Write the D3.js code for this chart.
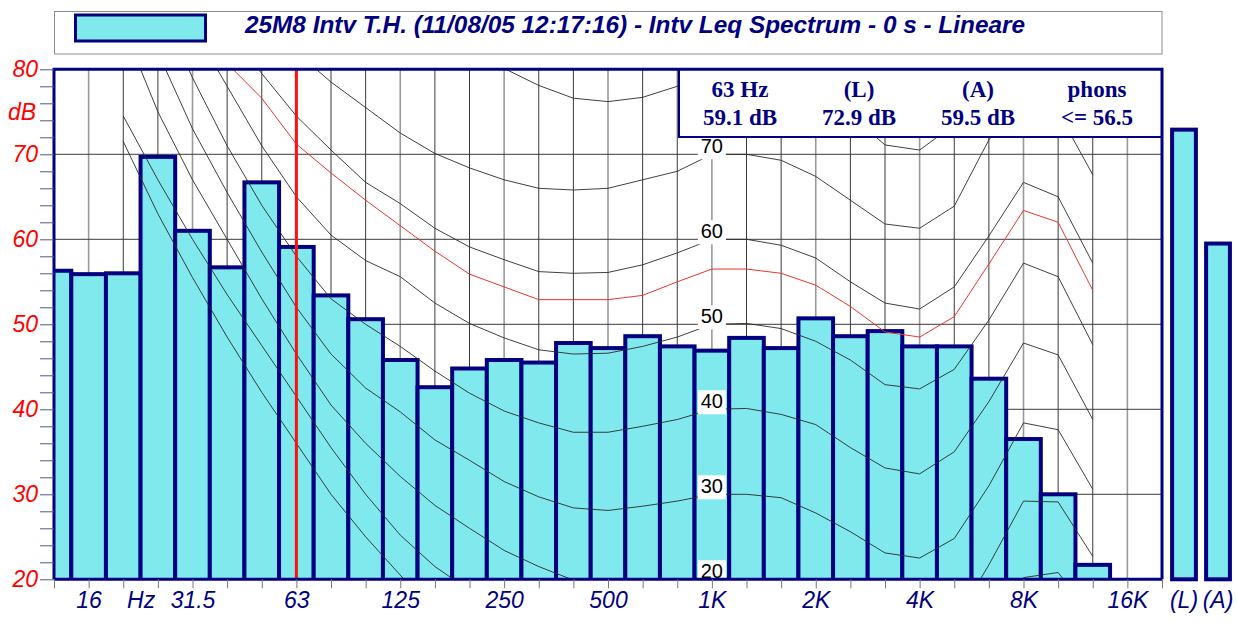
<!DOCTYPE html>
<html>
<head>
<meta charset="utf-8">
<script src="https://cdn.jsdelivr.net/npm/d3@7"></script>
<style>
  body { margin: 0; background: #fff; }
  svg { display: block; font-family: Arial, "Liberation Sans", sans-serif; }
</style>
</head>
<body>
<div id="chart"></div>
<script>
// third-octave bands shown on the x axis (12.5 Hz .. 20 kHz)
const bandNames = ['12.5', '16', '20', '25', '31.5', '40', '50', '63', '80', '100', '125', '160',
  '200', '250', '315', '400', '500', '630', '800', '1K', '1.25K', '1.6K', '2K', '2.5K', '3.15K',
  '4K', '5K', '6.3K', '8K', '10K', '12.5K', '16K', '20K'];
const bandLevels = [56.3, 55.9, 56.0, 69.7, 61.0, 56.7, 66.7, 59.1, 53.4, 50.6, 45.8, 42.6,
  44.8, 45.8, 45.5, 47.8, 47.2, 48.6, 47.4, 46.9, 48.4, 47.2, 50.7, 48.6, 49.2,
  47.4, 47.4, 43.6, 36.5, 30.0, 21.7, null, null];

// overall levels on the right
const totalNames = ['(L)', '(A)'];
const totalLevels = [72.9, 59.5];

// x axis labels
const axisLabels = ['16', 'Hz', '31.5', '63', '125', '250', '500', '1K', '2K', '4K', '8K', '16K'];
const axisLabelFreqs = [16, 22.4, 31.5, 63, 125, 250, 500, 1000, 2000, 4000, 8000, 16000];
const yTicks = [20, 30, 40, 50, 60, 70, 80];

// equal loudness contours (dB at each third-octave from 20 Hz to 12.5 kHz)
const contourFreqs = [20, 25, 31.5, 40, 50, 63, 80, 100, 125, 160, 200, 250, 315, 400, 500, 630,
  800, 1000, 1250, 1600, 2000, 2500, 3150, 4000, 5000, 6300, 8000, 10000, 12500];
const phon0 = [71.5, 63, 55.5, 48.5, 42, 36, 30, 25, 20.5, 16, 12.5, 9.5, 7, 5, 4, 3,
  2.5, 2.5, 2.5, 1.5, -0.5, -2.5, -4, -3.5, -1.5, 4, 10.5, 11, 6];
const phon10 = [74.5, 67, 60, 53.5, 47.5, 41.5, 35.5, 30, 25.2, 21.5, 18.7, 15, 12.5, 10.5, 9.5, 9.5,
  9.8, 10, 10, 9.5, 7.5, 5.5, 3.5, 3, 5, 12, 20.2, 20.8, 15.5];
const phon20 = [85, 75, 67, 60, 53, 46.5, 40.5, 36, 32.1, 28.7, 26.0, 23.4, 21.5, 19.9, 19.3, 19.3,
  19.6, 20, 20, 19.5, 17.5, 15.5, 13, 12.5, 14.8, 21.7, 29.2, 29.1, 22.7];
const phon30 = [92, 82, 73, 65.5, 58.5, 52, 46.5, 42.5, 39.7, 36.4, 34.0, 31.5, 29.7, 28.4, 28.1, 28.6,
  29.2, 30, 30, 29.6, 27.8, 25.6, 23.1, 22.5, 24.8, 31, 38.4, 37.6, 30.6];
const phon40 = [98, 88, 79, 71, 64, 58, 53, 50, 47.4, 44.5, 41.9, 39.8, 38.4, 37.3, 37.3, 38.0,
  38.8, 40, 40.1, 39.4, 38.2, 35.5, 33.1, 32.4, 35.0, 40.9, 47.8, 46.4, 38.8];
const phon50 = [104, 94, 85, 78, 71, 65, 60.5, 57.5, 55.6, 52.5, 50.1, 48.4, 47.0, 46.5, 46.6, 47.4,
  48.5, 50, 50.1, 49.5, 48.0, 45.8, 42.9, 42.4, 44.7, 50.5, 57.2, 55.6, 47.6];
const phonMeasured = [108, 98, 89, 80.7, 76.6, 71.2, 67.8, 64.6, 61.6, 58.6, 55.9, 54.4, 52.9, 52.9, 52.9, 53.4,
  55.0, 56.5, 56.5, 56.0, 54.6, 52.1, 49.1, 48.5, 50.9, 57.1, 63.4, 62.0, 54.0];
const phon60 = [110, 100, 92, 85, 79.5, 74.5, 70.5, 66.7, 64.2, 61.3, 59.1, 57.6, 56.2, 56.0, 56.1, 57.0,
  58.4, 60, 60.0, 59.3, 57.8, 55.0, 52.5, 51.8, 54.4, 60.4, 66.7, 65.0, 57.2];
const phon70 = [116, 107, 99, 92, 87, 82, 78.5, 75.5, 72.5, 70.1, 68.4, 67.0, 66.0, 65.8, 66.0, 67.0,
  68.0, 70, 70.0, 69.3, 67.4, 64.6, 61.8, 61.3, 63.9, 71.7, 76.5, 75, 67.6];
const phon80 = [122, 113, 106, 99, 94, 91, 88.5, 86.5, 85, 83.5, 81.8, 80.1, 78.1, 76.6, 76.2, 76.7,
  78.0, 80, 80, 79.5, 77.4, 74.6, 71.1, 70.5, 73.5, 80.5, 86, 84.5, 77.5];
const contours = [phon0, phon10, phon20, phon30, phon40, phon50, phon60, phon70, phon80];
const labelledLevels = [20, 30, 40, 50, 60, 70];

const title = '25M8 Intv T.H. (11/08/05 12:17:16) - Intv Leq Spectrum - 0 s - Lineare';
const infoHeads = ['63 Hz', '(L)', '(A)', 'phons'];
const infoValues = ['59.1 dB', '72.9 dB', '59.5 dB', '<= 56.5'];
const cursorFreq = 63;

const navy = '#000080';
const barFill = '#80e9ed';
const width = 1237, height = 623;
const plot = { left: 54, right: 1162, top: 69.3, bottom: 579.3 };

// nominal band name -> exact third octave centre frequency
function exactFreq(nominal) {
   let n = Math.round(10 * Math.log10(nominal / 1000));
   return 1000 * Math.pow(10, n / 10);
}
function bandFreq(i) {
   return 1000 * Math.pow(10, (i - 19) / 10);
}

let x = d3.scaleLog()
   .domain([bandFreq(0), bandFreq(32)])
   .range([plot.left, plot.right]);
let y = d3.scaleLinear()
   .domain([20, 80])
   .range([plot.bottom, plot.top]);
let xTot = d3.scaleBand()
   .domain(totalNames)
   .range([1167, 1235])
   .paddingInner(0.3)
   .paddingOuter(0.15);

let svg = d3.select('#chart').append('svg')
   .attr('width', width)
   .attr('height', height);

svg.append('defs').append('clipPath')
   .attr('id', 'plot-clip')
   .append('rect')
   .attr('x', plot.left)
   .attr('y', plot.top)
   .attr('width', plot.right - plot.left)
   .attr('height', plot.bottom - plot.top);

// title box with legend swatch
svg.append('rect')
   .attr('x', 54.5).attr('y', 11.5)
   .attr('width', 1107.5).attr('height', 42.5)
   .attr('fill', '#fff')
   .attr('stroke', '#8c8c8c');
svg.append('rect')
   .attr('x', 75.5).attr('y', 15)
   .attr('width', 130).attr('height', 26)
   .attr('fill', barFill)
   .attr('stroke', navy)
   .attr('stroke-width', 3);
svg.append('text')
   .attr('x', 245).attr('y', 33)
   .attr('fill', navy)
   .attr('textLength', 780)
   .attr('lengthAdjust', 'spacingAndGlyphs')
   .style('font-size', '24px')
   .style('font-weight', 'bold')
   .style('font-style', 'italic')
   .text(title);

let chart = svg.append('g');

// grid
let bandIdx = d3.range(1, 32);
chart.append('g').selectAll('line')
   .data(bandIdx)
   .enter().append('line')
   .attr('x1', d => x(bandFreq(d)))
   .attr('x2', d => x(bandFreq(d)))
   .attr('y1', plot.top)
   .attr('y2', plot.bottom)
   .attr('stroke', d => (d - 1) % 3 === 0 ? '#9a9a9a' : '#3a3a3a')
   .attr('stroke-width', d => (d - 1) % 3 === 0 ? 1.6 : 1);
chart.append('g').selectAll('line')
   .data([30, 40, 50, 60, 70])
   .enter().append('line')
   .attr('x1', plot.left)
   .attr('x2', plot.right)
   .attr('y1', d => y(d))
   .attr('y2', d => y(d))
   .attr('stroke', '#3a3a3a')
   .attr('stroke-width', 1);

// spectrum bars
let bars = bandLevels.map((v, i) => ({ name: bandNames[i], f: bandFreq(i), value: v }))
   .filter(d => d.value !== null);
chart.append('g')
   .attr('clip-path', 'url(#plot-clip)')
   .selectAll('rect')
   .data(bars)
   .enter().append('rect')
   .attr('x', d => x(d.f / Math.pow(10, 0.05)))
   .attr('width', d => x(d.f * Math.pow(10, 0.05)) - x(d.f / Math.pow(10, 0.05)))
   .attr('y', d => y(d.value))
   .attr('height', d => y(20) - y(d.value) + 2)
   .attr('fill', barFill)
   .attr('stroke', navy)
   .attr('stroke-width', 4);

// equal loudness contours
let line = d3.line()
   .x(d => x(exactFreq(d.f)))
   .y(d => y(d.v));
let contourGroup = chart.append('g').attr('clip-path', 'url(#plot-clip)');
contours.forEach((c) => {
   contourGroup.append('path')
      .attr('d', line(c.map((v, i) => ({ f: contourFreqs[i], v: v }))))
      .attr('fill', 'none')
      .attr('stroke', '#2a2a2a')
      .attr('stroke-width', 0.9);
});
contourGroup.append('path')
   .attr('d', line(phonMeasured.map((v, i) => ({ f: contourFreqs[i], v: v }))))
   .attr('fill', 'none')
   .attr('stroke', '#e8362f')
   .attr('stroke-width', 1);

// cursor at 63 Hz
chart.append('line')
   .attr('x1', x(exactFreq(cursorFreq)))
   .attr('x2', x(exactFreq(cursorFreq)))
   .attr('y1', plot.top)
   .attr('y2', plot.bottom)
   .attr('stroke', '#ff1010')
   .attr('stroke-width', 3);

// contour labels at 1 kHz
let labels = chart.append('g').selectAll('g')
   .data(labelledLevels)
   .enter().append('g');
labels.append('rect')
   .attr('x', x(1000) - 14)
   .attr('y', d => y(d) - 19)
   .attr('width', 28)
   .attr('height', d => Math.min(24, plot.bottom - y(d) + 19))
   .attr('fill', '#fff');
labels.append('text')
   .attr('x', x(1000))
   .attr('y', d => y(d) - 1)
   .attr('text-anchor', 'middle')
   .attr('fill', '#000')
   .style('font-size', '20px')
   .text(d => d);

// info box
let info = svg.append('g');
info.append('rect')
   .attr('x', 679).attr('y', 69)
   .attr('width', 483).attr('height', 68)
   .attr('fill', '#fff')
   .attr('stroke', navy)
   .attr('stroke-width', 2);
let infoX = d3.scalePoint().domain(infoHeads).range([740, 1097]);
info.selectAll('.head')
   .data(infoHeads)
   .enter().append('text')
   .attr('class', 'head')
   .attr('x', d => infoX(d))
   .attr('y', 97)
   .attr('text-anchor', 'middle')
   .attr('fill', navy)
   .style('font-family', '"Liberation Serif", "Times New Roman", serif')
   .style('font-weight', 'bold')
   .style('font-size', '23px')
   .text(d => d);
info.selectAll('.val')
   .data(infoValues)
   .enter().append('text')
   .attr('class', 'val')
   .attr('x', (d, i) => infoX(infoHeads[i]))
   .attr('y', 125)
   .attr('text-anchor', 'middle')
   .attr('fill', navy)
   .style('font-family', '"Liberation Serif", "Times New Roman", serif')
   .style('font-weight', 'bold')
   .style('font-size', '23px')
   .text(d => d);

// plot frame
svg.append('path')
   .attr('d', `M${plot.left},${plot.bottom} V${plot.top} H${plot.right} V${plot.bottom}`)
   .attr('fill', 'none')
   .attr('stroke', navy)
   .attr('stroke-width', 3);

// overall bars
svg.append('g').selectAll('rect')
   .data(totalLevels)
   .enter().append('rect')
   .attr('x', (d, i) => xTot(totalNames[i]))
   .attr('width', xTot.bandwidth())
   .attr('y', d => y(d))
   .attr('height', d => y(20) - y(d))
   .attr('fill', barFill)
   .attr('stroke', navy)
   .attr('stroke-width', 4);

// y axis
let yAxis = svg.append('g')
   .attr('transform', `translate(${plot.left}, 0)`)
   .call(d3.axisLeft(y)
      .tickValues(d3.range(20, 81, 2))
      .tickSize(14)
      .tickPadding(2)
      .tickFormat(d => yTicks.includes(d) ? d : ''));
yAxis.select('.domain').remove();
yAxis.selectAll('line').attr('stroke', '#4a5a8a');
yAxis.selectAll('text')
   .attr('fill', '#ff0000')
   .style('font-size', '23px')
   .style('font-style', 'italic');
svg.append('text')
   .attr('x', 22).attr('y', 120)
   .attr('text-anchor', 'middle')
   .attr('fill', '#ff0000')
   .style('font-size', '23px')
   .style('font-style', 'italic')
   .text('dB');

// x axis: ticks at every band, labels at octaves
let xTicks = svg.append('g')
   .attr('transform', `translate(0, ${plot.bottom})`)
   .call(d3.axisBottom(x)
      .tickValues(d3.range(0, 33).map(bandFreq))
      .tickSize(9)
      .tickFormat(''));
xTicks.select('.domain')
   .attr('stroke', navy)
   .attr('stroke-width', 3)
   .attr('d', `M${plot.left},0H${plot.right}`);
xTicks.selectAll('line').attr('stroke', '#777');

let xLabels = svg.append('g')
   .attr('transform', `translate(0, ${plot.bottom})`)
   .call(d3.axisBottom(x)
      .tickValues(axisLabelFreqs.map((f, i) => axisLabels[i] === 'Hz' ? f : exactFreq(f)))
      .tickSize(0)
      .tickPadding(12)
      .tickFormat((d, i) => axisLabels[i]));
xLabels.select('.domain').remove();
xLabels.selectAll('text')
   .attr('fill', navy)
   .style('font-size', '23px')
   .style('font-style', 'italic');

let totAxis = svg.append('g')
   .attr('transform', `translate(0, ${plot.bottom})`)
   .call(d3.axisBottom(xTot).tickSize(0).tickPadding(12));
totAxis.select('.domain').remove();
totAxis.selectAll('text')
   .attr('fill', navy)
   .style('font-size', '23px')
   .style('font-style', 'italic');
</script>
</body>
</html>
